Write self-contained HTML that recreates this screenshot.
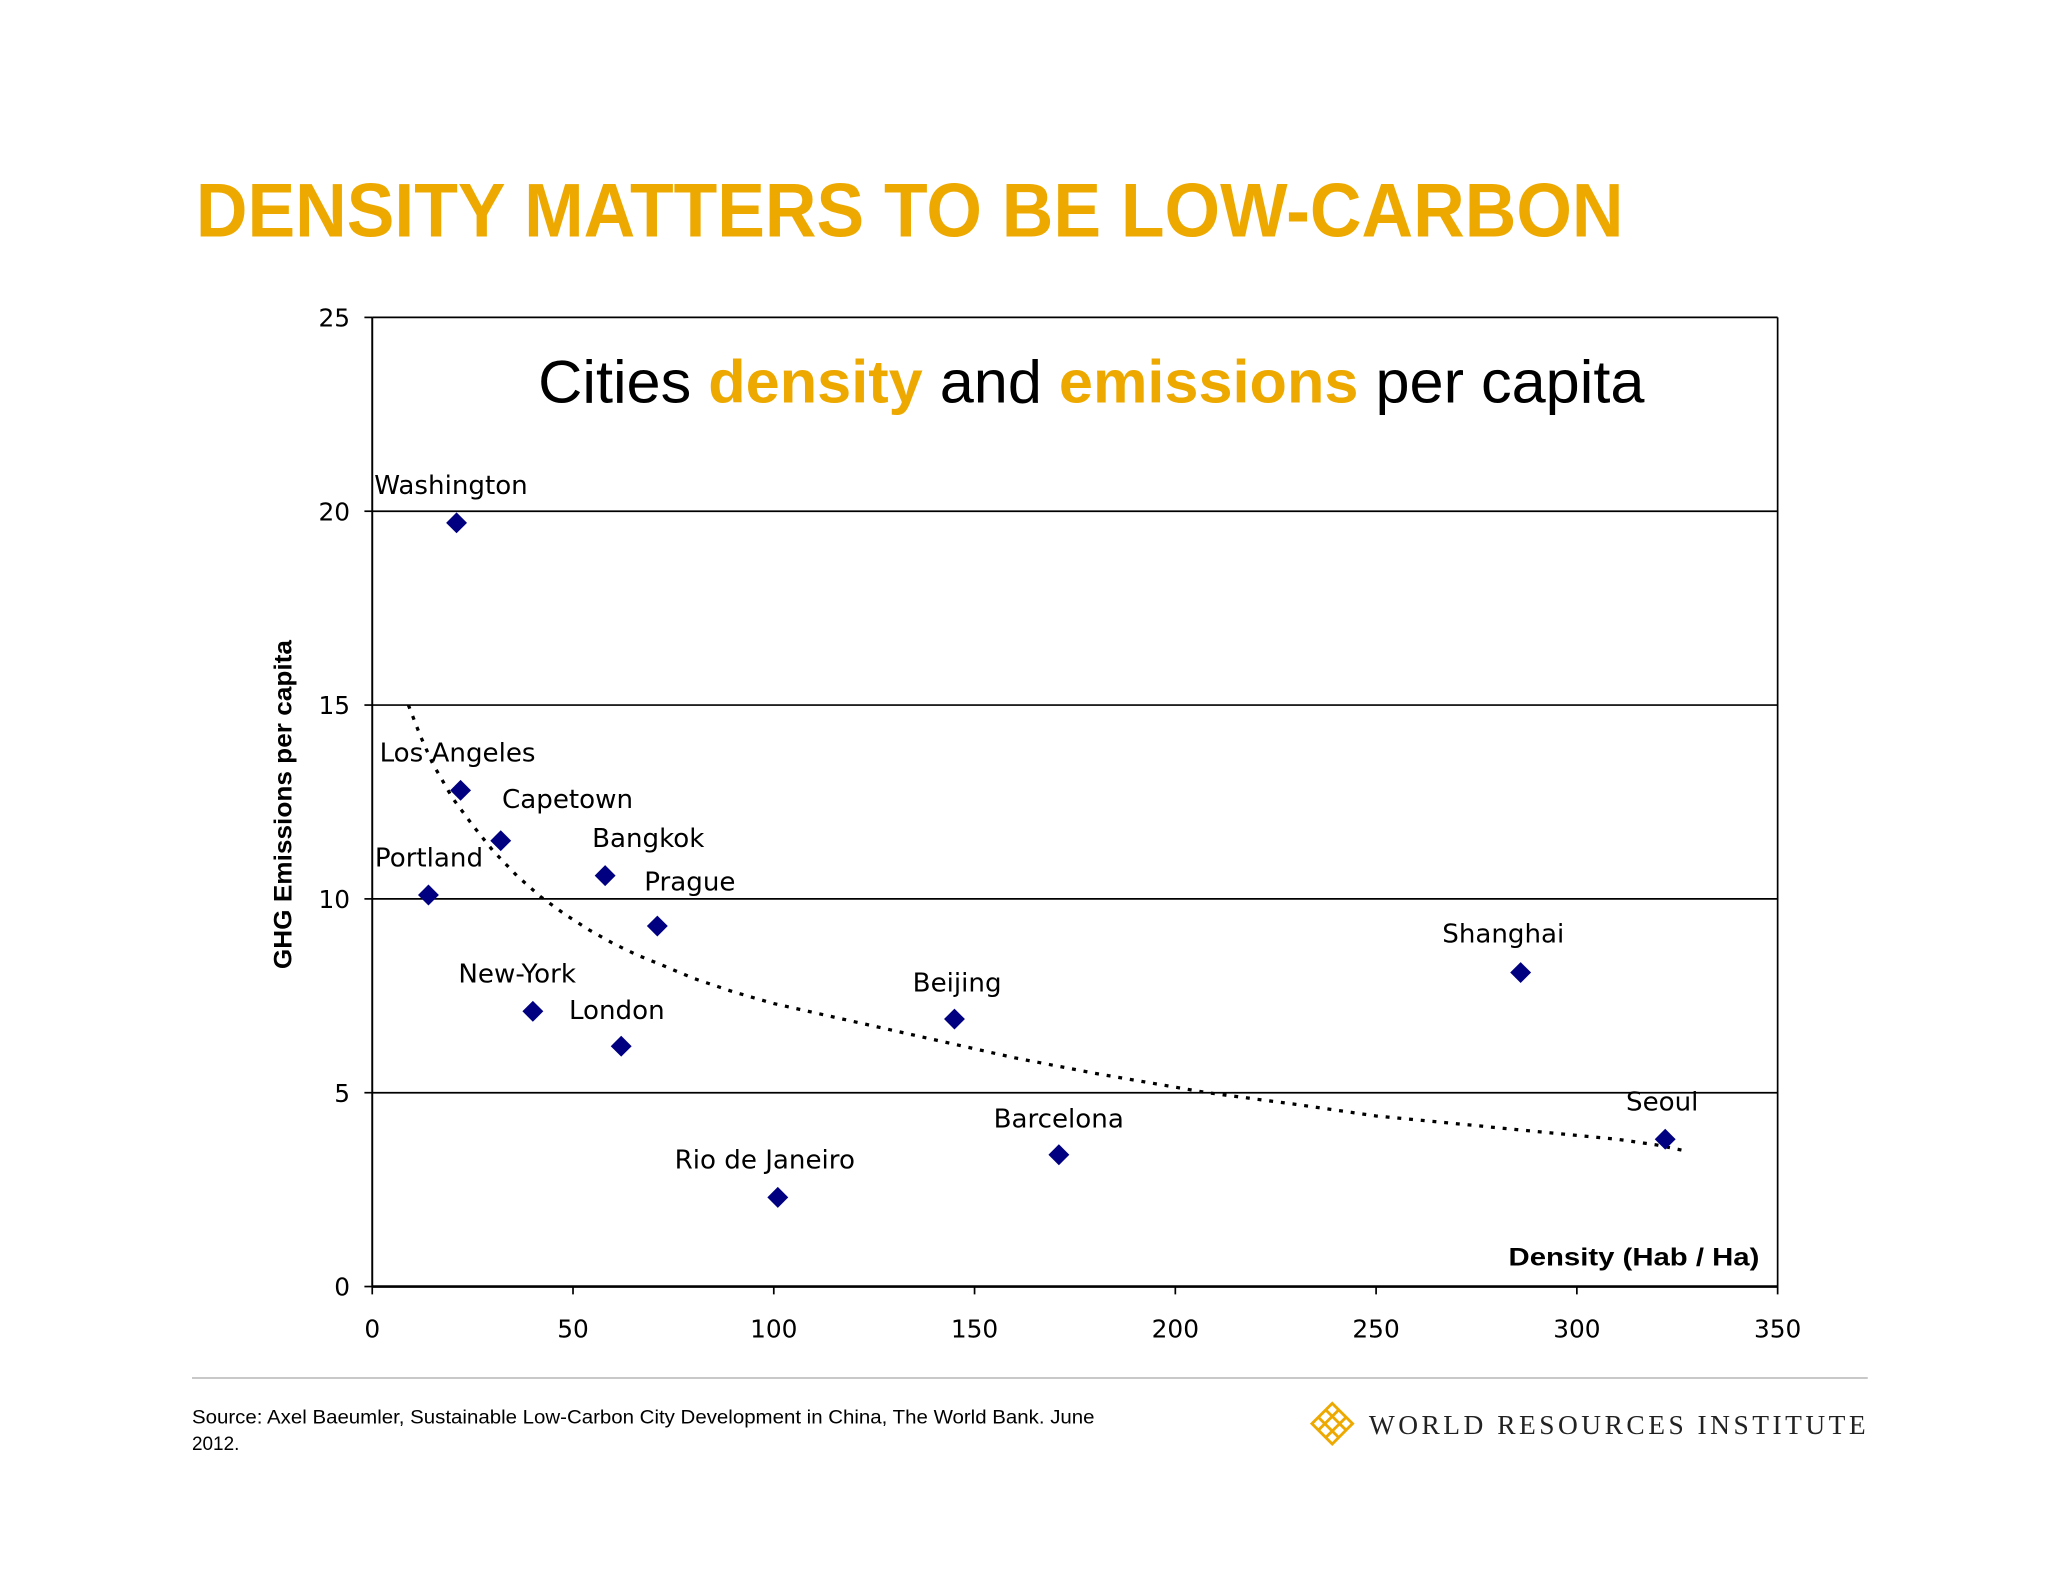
<!DOCTYPE html>
<html><head><meta charset="utf-8"><style>
html,body{margin:0;padding:0;background:#fff;}
svg{display:block;font-family:"Liberation Sans",sans-serif;}
</style></head><body>
<svg width="2048" height="1582" viewBox="0 0 1568 1211.2" xmlns="http://www.w3.org/2000/svg">
<rect width="1568" height="1211.2" fill="#fff"/>
<text x="150" y="181" font-size="58" font-weight="bold" fill="#EDA900" textLength="1093" lengthAdjust="spacingAndGlyphs">DENSITY MATTERS TO BE LOW-CARBON</text>
<g id="chart"></g>
<line x1="147" y1="1055" x2="1430" y2="1055" stroke="#c8c8c8" stroke-width="1.5"/>
<text x="147" y="1090" font-size="14.5" fill="#000" textLength="691" lengthAdjust="spacingAndGlyphs">Source: Axel Baeumler, Sustainable Low-Carbon City Development in China, The World Bank. June</text>
<text x="147" y="1110" font-size="14.5" fill="#000">2012.</text>
<g>
<g transform="translate(1020,1090) rotate(45)" fill="none" stroke="#EDA900" stroke-width="2.2">
<rect x="-11" y="-11" width="22" height="22"/><line x1="-11" y1="-4" x2="11" y2="-4"/><line x1="-11" y1="4" x2="11" y2="4"/><line x1="-4" y1="-11" x2="-4" y2="11"/><line x1="4" y1="-11" x2="4" y2="11"/>
</g>
<text x="1048" y="1098" font-family="'Liberation Serif',serif" font-size="21" letter-spacing="2.6" fill="#222" textLength="383" lengthAdjust="spacing">WORLD RESOURCES INSTITUTE</text>
</g>
</svg>
<script>
const cities=["Washington","Los Angeles","Capetown","Portland","Bangkok","Prague","New-York","London","Rio de Janeiro","Beijing","Barcelona","Shanghai","Seoul"];
const density=[21,22,32,14,58,71,40,62,101,145,171,286,322];
const emissions=[19.7,12.8,11.5,10.1,10.6,9.3,7.1,6.2,2.3,6.9,3.4,8.1,3.8];
const trendX=[9,12,15,20,25,30,36,42,48,54,60,66,72,80,90,100,115,130,145,160,180,208,230,250,270,290,310,320,327];
const trendY=[15,14.2,13.5,12.6,11.9,11.25,10.6,10.05,9.6,9.2,8.85,8.55,8.3,7.95,7.6,7.3,6.95,6.6,6.25,5.9,5.5,5.0,4.7,4.4,4.2,4.0,3.8,3.65,3.5];
const xTicks=[0,50,100,150,200,250,300,350];
const yTicks=[0,5,10,15,20,25];
const labelDX=[-63,-62,1,-41,-10,-10,-57,-40,-79,-32,-50,-60,-30];
const labelDY=[-29,-29,-32,-29,-29,-34,-29,-28,-29,-28,-28,-30,-29];
const NS="http://www.w3.org/2000/svg";
const L=285,R=1361,T=243,B=985;
const sx=v=>L+(R-L)*v/350, sy=v=>B-(B-T)*v/25;
const g=document.getElementById('chart');
function mk(t,a){const e=document.createElementNS(NS,t);for(const k in a)e.setAttribute(k,a[k]);g.appendChild(e);return e;}
let e;
yTicks.forEach(v=>{
 if(v>0){e=mk('line',{x1:L,x2:R,y1:sy(v),y2:sy(v),stroke:'#000','stroke-width':1.3});
 
 }
 e=mk('line',{x1:L-6,x2:L,y1:sy(v),y2:sy(v),stroke:'#000','stroke-width':1.3});
 
 
 e=mk('text',{x:L-17,y:sy(v)+7,'text-anchor':'end','font-size':19,'font-family':'DejaVu Sans, sans-serif',fill:'#000'});e.textContent=v;
 
 
});
xTicks.forEach(v=>{
 e=mk('line',{x1:sx(v),x2:sx(v),y1:B,y2:B+6,stroke:'#000','stroke-width':1.3});
 
 
 e=mk('text',{x:sx(v),y:B+39,'text-anchor':'middle','font-size':19,'font-family':'DejaVu Sans, sans-serif',fill:'#000'});e.textContent=v;
 
 
});
e=mk('line',{x1:L,x2:L,y1:T,y2:B,stroke:'#000','stroke-width':1.5});


e=mk('line',{x1:R,x2:R,y1:T,y2:B,stroke:'#000','stroke-width':1.3});


e=mk('line',{x1:L,x2:R,y1:B,y2:B,stroke:'#000','stroke-width':2});


e=mk('polyline',{points:trendX.map((x,i)=>sx(x)+','+sy(trendY[i])).join(' '),fill:'none',stroke:'#000','stroke-width':2.5,'stroke-dasharray':'3,6'});


cities.forEach((c,i)=>{
 const x=sx(density[i]),y=sy(emissions[i]);
 e=mk('polygon',{points:`${x},${y-8} ${x+8},${y} ${x},${y+8} ${x-8},${y}`,fill:'#000080'});
 
 
 e=mk('text',{x:x+labelDX[i],y:y+labelDY[i]+7,'font-size':20,'font-family':'DejaVu Sans, sans-serif',fill:'#000'});e.textContent=c;
 
 
});
e=mk('text',{x:412,y:308,'font-size':46,fill:'#000',textLength:847,lengthAdjust:'spacingAndGlyphs'});
e.innerHTML='Cities <tspan font-weight="bold" fill="#EDA900">density</tspan> and <tspan font-weight="bold" fill="#EDA900">emissions</tspan> per capita';


e=mk('text',{x:1347,y:969,'text-anchor':'end','font-size':19,'font-weight':'bold',fill:'#000',textLength:192,lengthAdjust:'spacingAndGlyphs'});e.textContent='Density (Hab / Ha)';


e=mk('text',{x:0,y:0,'text-anchor':'middle','font-size':19,'font-weight':'bold',fill:'#000',transform:'translate(223,616) rotate(-90)',textLength:252,lengthAdjust:'spacingAndGlyphs'});e.textContent='GHG Emissions per capita';


</script>
</body></html>
